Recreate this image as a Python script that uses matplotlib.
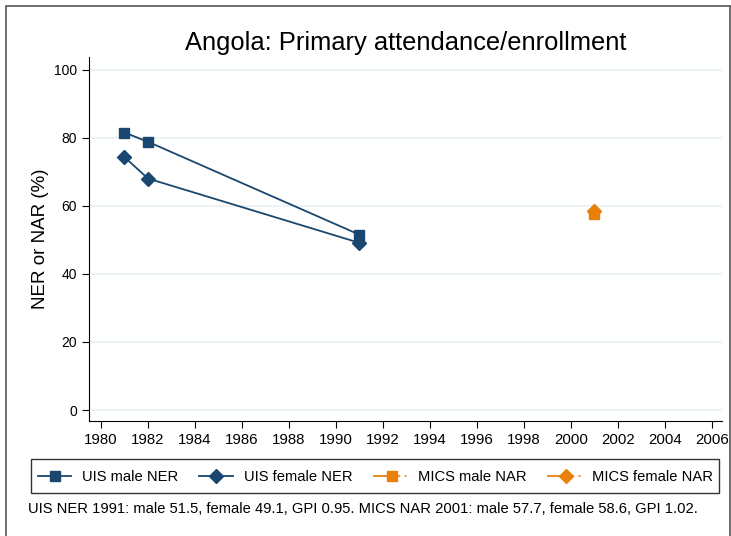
import matplotlib
matplotlib.use("Agg")
import matplotlib.pyplot as plt
from matplotlib.lines import Line2D
from matplotlib.patches import Rectangle
from matplotlib.legend_handler import HandlerBase

plt.rcParams['font.family'] = ['Liberation Sans', 'DejaVu Sans']

# data
uis_years = [1981, 1982, 1991]
uis_male = [81.5, 78.8, 51.5]
uis_female = [74.3, 68.0, 49.1]
mics_years = [2001]
mics_male = [57.7]
mics_female = [58.6]
xticks = list(range(1980, 2007, 2))
yticks = [0, 20, 40, 60, 80, 100]

navy = '#1a476f'
orange = '#e8800a'
grid_c = '#eaf2f3'


class SolidDotHandler(HandlerBase):
    # legend key: solid line, marker, then dotted tail
    def create_artists(self, legend, orig, xd, yd, w, h, fontsize, trans):
        y = h / 2 - yd
        mid = -xd + w * 0.55
        a = Line2D([-xd, mid], [y, y], color=orig.get_color(), lw=1.3)
        b = Line2D([mid, -xd + w], [y, y], color=orig.get_color(), lw=1.3,
                   linestyle=(0, (1, 2.5)))
        m = Line2D([mid], [y], marker=orig.get_marker(), color=orig.get_color(),
                   markersize=orig.get_markersize(), linestyle='none')
        for art in (a, b, m):
            art.set_transform(trans)
        return [a, b, m]


class SolidHandler(HandlerBase):
    def create_artists(self, legend, orig, xd, yd, w, h, fontsize, trans):
        y = h / 2 - yd
        a = Line2D([-xd, -xd + w], [y, y], color=orig.get_color(), lw=1.3)
        m = Line2D([-xd + w / 2], [y], marker=orig.get_marker(), color=orig.get_color(),
                   markersize=orig.get_markersize(), linestyle='none')
        for art in (a, m):
            art.set_transform(trans)
        return [a, m]


fig = plt.figure(figsize=(7.31, 5.36), dpi=100)
ax = fig.add_axes([89 / 731, 1 - 421 / 536, (722 - 89) / 731, (421 - 57) / 536])

l1, = ax.plot(uis_years, uis_male, color=navy, marker='s', ms=7, lw=1.3)
l2, = ax.plot(uis_years, uis_female, color=navy, marker='D', ms=7.5, lw=1.3)
l3, = ax.plot(mics_years, mics_male, color=orange, marker='s', ms=7, lw=1.3, ls=':')
l4, = ax.plot(mics_years, mics_female, color=orange, marker='D', ms=7.5, lw=1.3, ls=':')

ax.set_xlim(1979.49, 2006.43)
ax.set_ylim(-3.23, 103.7)
ax.set_xticks(xticks)
ax.set_yticks(yticks)
ax.yaxis.grid(True, color=grid_c, lw=1.2)
ax.set_axisbelow(True)
for s in ('top', 'right'):
    ax.spines[s].set_visible(False)
ax.tick_params(direction='out', length=5, width=0.8, pad=3.5)
ax.tick_params(axis='x', labelsize=10.8)
ax.tick_params(axis='y', labelsize=10)
ax.set_ylabel('NER or NAR (%)', fontsize=13.5, labelpad=4)
ax.set_title('Angola: Primary attendance/enrollment', fontsize=18.4, pad=5)

fig.legend([l1, l2, l3, l4],
           ['UIS male NER', 'UIS female NER', 'MICS male NAR', 'MICS female NAR'],
           handler_map={l1: SolidHandler(), l2: SolidHandler(),
                        l3: SolidDotHandler(), l4: SolidDotHandler()},
           loc='upper left', bbox_to_anchor=(31 / 731, 1 - 459 / 536), ncol=4,
           fontsize=10.6, frameon=True, fancybox=False, edgecolor='black',
           handlelength=2.3, handleheight=1.75, handletextpad=0.7, columnspacing=1.45,
           borderpad=0.45, borderaxespad=0)

fig.text(28 / 731, 1 - 509 / 536,
         'UIS NER 1991: male 51.5, female 49.1, GPI 0.95. MICS NAR 2001: male 57.7, female 58.6, GPI 1.02.',
         fontsize=10.6, va='center', ha='left')

fig.add_artist(Rectangle((6 / 731, -0.05), 724 / 731, 1.05 - 6 / 536,
                         transform=fig.transFigure, fill=False,
                         ec='#555555', lw=1.2))

fig.savefig('out.png', dpi=100)
